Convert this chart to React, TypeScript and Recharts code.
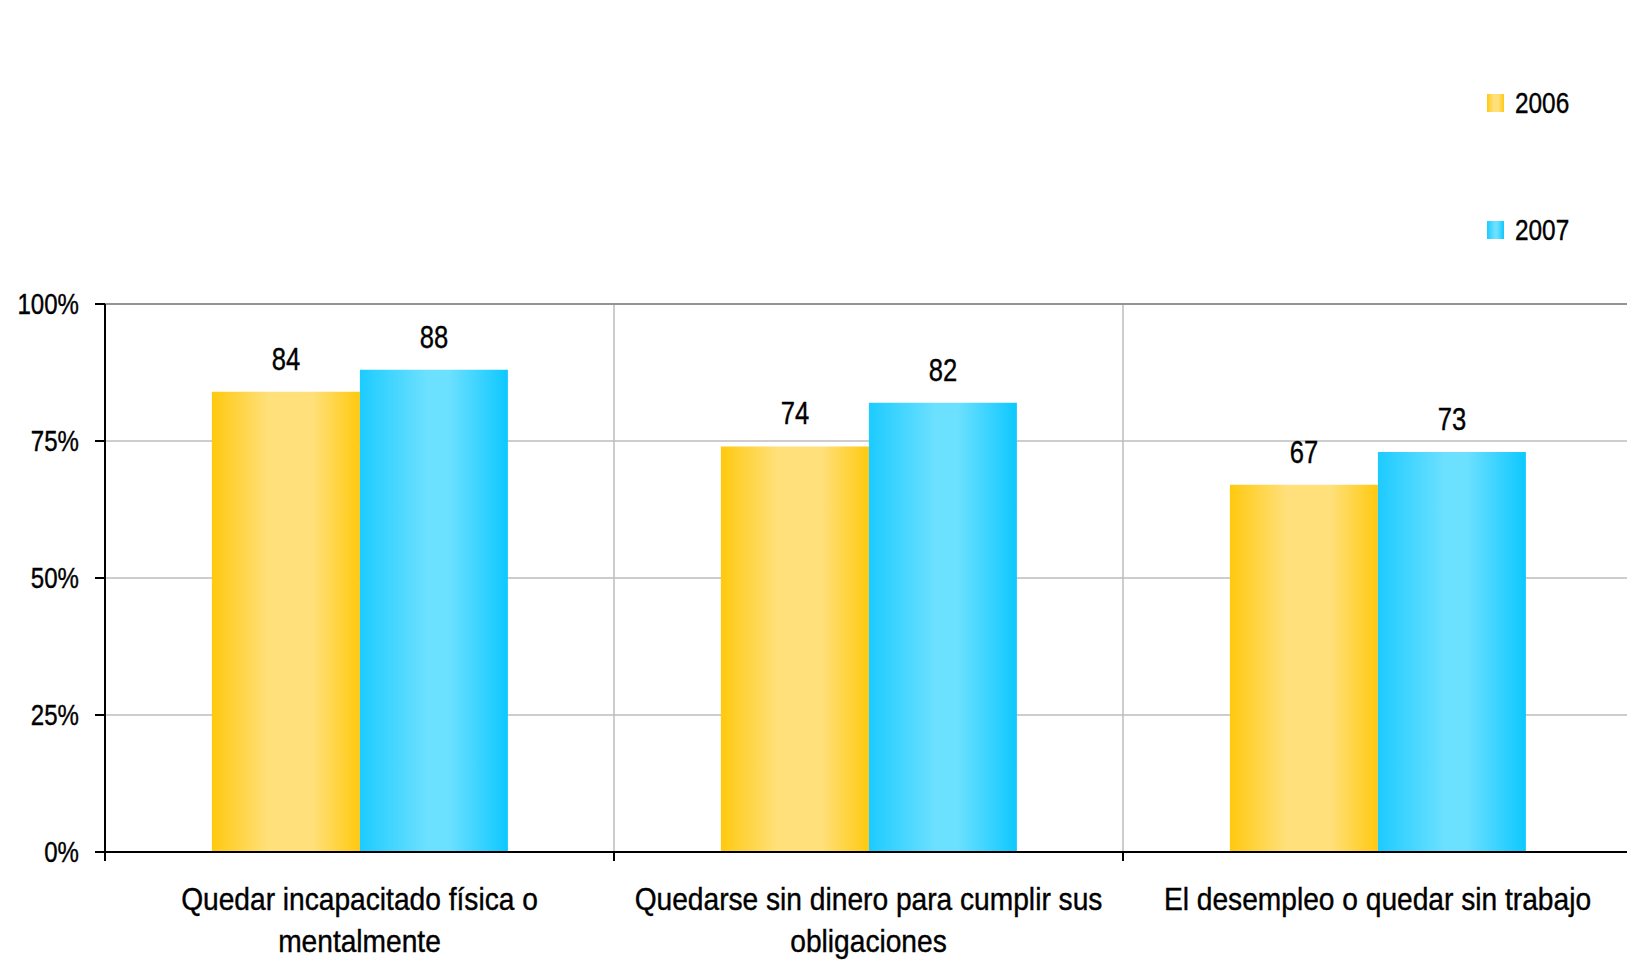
import React from 'react';
import {
  BarChart,
  Bar,
  XAxis,
  YAxis,
  CartesianGrid,
  LabelList,
  ReferenceLine,
} from 'recharts';

const categories = [
  'Quedar incapacitado física o mentalmente',
  'Quedarse sin dinero para cumplir sus obligaciones',
  'El desempleo o quedar sin trabajo',
];
const values2006 = [84, 74, 67];
const values2007 = [88, 82, 73];
const yTicks = [0, 25, 50, 75, 100];
const categoryBounds = [0, 1, 2, 3];

// Liberation Sans squeezed horizontally gives a condensed look
const FONT = '"Liberation Sans", Arial, sans-serif';
const TEXT_WEIGHT = { stroke: '#000', strokeWidth: 0.4 };

const data = categories.map((name, i) => ({
  name,
  pos: i + 0.5,
  y2006: values2006[i],
  y2007: values2007[i],
}));

const seriesInfo = [
  { key: 'y2006', label: '2006', fill: 'url(#grad2006)' },
  { key: 'y2007', label: '2007', fill: 'url(#grad2007)' },
];

// greedy word wrap measured with a canvas context
let measureCtx: CanvasRenderingContext2D | null = null;
function wrapWords(text: string, font: string, maxWidth: number): string[] {
  if (!measureCtx) measureCtx = document.createElement('canvas').getContext('2d');
  const ctx = measureCtx!;
  ctx.font = font;
  const lines: string[] = [];
  let current = '';
  for (const word of text.split(' ')) {
    const candidate = current ? `${current} ${word}` : word;
    if (current && ctx.measureText(candidate).width > maxWidth) {
      lines.push(current);
      current = word;
    } else {
      current = candidate;
    }
  }
  if (current) lines.push(current);
  return lines;
}

const EmptyTick = () => <g />;

const CategoryTick = ({ x, y, payload }: any) => {
  const lines = wrapWords(payload.value, `32px ${FONT}`, 560);
  const half = typeof payload.offset === 'number' ? payload.offset : null;
  return (
    <g>
      {half !== null && (
        <line x1={x - half} y1={y} x2={x - half} y2={y + 9} stroke="#000" strokeWidth={2} />
      )}
      <g transform={`translate(${x},${y}) scale(0.88,1)`}>
        <text x={0} y={0} textAnchor="middle" fontSize={32} fontFamily={FONT} fill="#000" {...TEXT_WEIGHT}>
          {lines.map((line, i) => (
            <tspan key={i} x={0} y={58 + i * 42}>
              {line}
            </tspan>
          ))}
        </text>
      </g>
    </g>
  );
};

const PercentTick = ({ x, y, payload }: any) => (
  <g transform={`translate(${x},${y}) scale(0.83,1)`}>
    <text x={0} y={0} dy="0.36em" textAnchor="end" fontSize={29} fontFamily={FONT} fill="#000" {...TEXT_WEIGHT}>
      {`${payload.value}%`}
    </text>
  </g>
);

const ValueLabel = ({ x, y, width, value }: any) => (
  <g transform={`translate(${x + width / 2},${y - 22}) scale(0.8,1)`}>
    <text x={0} y={0} textAnchor="middle" fontSize={32} fontFamily={FONT} fill="#000" {...TEXT_WEIGHT}>
      {value}
    </text>
  </g>
);

const LegendBlock = () => (
  <div
    style={{
      position: 'absolute',
      left: 1487,
      top: 86,
      fontFamily: FONT,
      fontSize: 29,
      color: '#000',
      WebkitTextStroke: '0.4px #000',
    }}
  >
    {seriesInfo.map((s, i) => (
      <div
        key={s.key}
        style={{ display: 'flex', alignItems: 'center', height: 34, marginBottom: i === 0 ? 93 : 0 }}
      >
        <svg width={17} height={18} style={{ marginRight: 11 }}>
          <rect width={17} height={18} fill={s.fill} />
        </svg>
        <span style={{ display: 'inline-block', transform: 'scaleX(0.84)', transformOrigin: 'left center' }}>
          {s.label}
        </span>
      </div>
    ))}
  </div>
);

export default function App() {
  return (
    <div
      style={{
        position: 'fixed',
        left: 0,
        top: 0,
        width: 1627,
        height: 960,
        overflow: 'hidden',
        background: '#fff',
      }}
    >
      <BarChart
        width={1632}
        height={960}
        data={data}
        margin={{ top: 304, right: 0, left: 0, bottom: 0 }}
        barCategoryGap="21%"
        barGap={0}
      >
        <defs>
          <linearGradient id="grad2006" x1="0" y1="0" x2="1" y2="0">
            <stop offset="0%" stopColor="#FFC90F" />
            <stop offset="38%" stopColor="#FFE07A" />
            <stop offset="68%" stopColor="#FFE07A" />
            <stop offset="100%" stopColor="#FFC90F" />
          </linearGradient>
          <linearGradient id="grad2007" x1="0" y1="0" x2="1" y2="0">
            <stop offset="0%" stopColor="#1DCBFF" />
            <stop offset="45%" stopColor="#6CE0FF" />
            <stop offset="60%" stopColor="#6CE0FF" />
            <stop offset="100%" stopColor="#0DC8FF" />
          </linearGradient>
        </defs>
        <CartesianGrid xAxisId="bounds" stroke="#BDBDBD" strokeWidth={1.5} />
        <XAxis
          xAxisId="bounds"
          type="number"
          dataKey="pos"
          domain={[0, 3]}
          ticks={categoryBounds}
          tick={<EmptyTick />}
          tickSize={9}
          tickLine={{ stroke: '#000', strokeWidth: 2 }}
          axisLine={false}
          height={0}
        />
        <XAxis
          dataKey="name"
          interval={0}
          tick={<CategoryTick />}
          tickLine={false}
          tickSize={0}
          tickMargin={0}
          axisLine={{ stroke: '#000', strokeWidth: 2 }}
          height={108}
        />
        <YAxis
          domain={[0, 100]}
          ticks={yTicks}
          width={105}
          tickSize={10}
          tickMargin={16}
          tickLine={{ stroke: '#000', strokeWidth: 2 }}
          axisLine={{ stroke: '#000', strokeWidth: 2 }}
          tick={<PercentTick />}
        />
        <ReferenceLine y={100} stroke="#808080" strokeWidth={1.5} />
        {seriesInfo.map((s) => (
          <Bar key={s.key} dataKey={s.key} fill={s.fill} isAnimationActive={false}>
            <LabelList dataKey={s.key} content={<ValueLabel />} />
          </Bar>
        ))}
      </BarChart>
      <LegendBlock />
    </div>
  );
}
